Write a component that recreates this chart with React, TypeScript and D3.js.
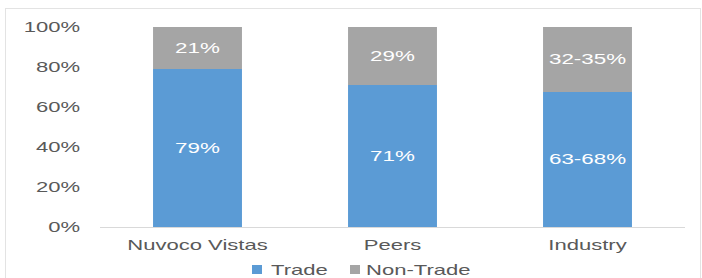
import React from 'react';
import * as d3 from 'd3';

const categories = ['Nuvoco Vistas', 'Peers', 'Industry'];
const tradeValues = [79, 71, 67.5];
const nonTradeValues = [21, 29, 32.5];
const tradeLabels = ['79%', '71%', '63-68%'];
const nonTradeLabels = ['21%', '29%', '32-35%'];
const yTicks = [0, 20, 40, 60, 80, 100];
const seriesNames = ['Trade', 'Non-Trade'];

const W = 702;
const H = 278;
const BLUE = '#5B9BD5';
const GRAY = '#A5A5A5';
const TEXT = '#595959';
const SX = 1.47; // the source text is stretched sideways

// stretched text helper
const Txt = ({ x, y, anchor, size, fill, sx = SX, weight = 'normal', children }: any) => (
  <g transform={`translate(${x},${y}) scale(${sx},1)`}>
    <text
      textAnchor={anchor}
      dominantBaseline="central"
      fontSize={size}
      fill={fill}
      fontWeight={weight}
      fontFamily="'Liberation Sans', Arial, sans-serif"
    >
      {children}
    </text>
  </g>
);

export default function App() {
  const x = d3.scaleBand().domain(categories).range([100, 685]).paddingInner(0.544).paddingOuter(0.272);
  const y = d3.scaleLinear().domain([0, 100]).range([227, 27]);

  const rows = categories.map((c, i) => ({
    cat: c,
    trade: tradeValues[i],
    nonTrade: nonTradeValues[i],
    tl: tradeLabels[i],
    nl: nonTradeLabels[i],
  }));

  return (
    <div style={{ position: 'absolute', left: 0, top: 0, background: '#fff' }}>
      <svg width={W} height={H} style={{ display: 'block' }}>
        <rect x={0} y={0} width={W} height={H} fill="#fff" />
        <rect x={5.5} y={8.5} width={695} height={290} fill="none" stroke="#e3e3e3" />

        {yTicks.map((t) => (
          <Txt key={t} x={80} y={y(t)} anchor="end" size={15} fill={TEXT}>
            {t + '%'}
          </Txt>
        ))}

        {rows.map((d) => {
          const bx = x(d.cat) as number;
          const bw = x.bandwidth();
          const cx = bx + bw / 2;
          return (
            <g key={d.cat}>
              <rect x={bx} y={y(d.trade)} width={bw} height={y(0) - y(d.trade)} fill={BLUE} />
              <rect
                x={bx}
                y={y(d.trade + d.nonTrade)}
                width={bw}
                height={y(d.trade) - y(d.trade + d.nonTrade)}
                fill={GRAY}
              />
              <Txt x={cx} y={(y(0) + y(d.trade)) / 2} anchor="middle" size={14} fill="#fff" sx={1.6}>
                {d.tl}
              </Txt>
              <Txt
                x={cx}
                y={(y(d.trade) + y(d.trade + d.nonTrade)) / 2}
                anchor="middle"
                size={14}
                fill="#fff"
                sx={1.6}
              >
                {d.nl}
              </Txt>
              <Txt x={cx} y={245} anchor="middle" size={15} fill={TEXT}>
                {d.cat}
              </Txt>
            </g>
          );
        })}

        <line x1={100} x2={685} y1={227.5} y2={227.5} stroke="#d9d9d9" />

        {/* legend */}
        <rect x={252} y={265} width={10} height={9} fill={BLUE} />
        <Txt x={271} y={269.5} anchor="start" size={15} fill={TEXT}>
          {seriesNames[0]}
        </Txt>
        <rect x={350} y={265} width={10} height={9} fill={GRAY} />
        <Txt x={366} y={269.5} anchor="start" size={15} fill={TEXT}>
          {seriesNames[1]}
        </Txt>
      </svg>
    </div>
  );
}
